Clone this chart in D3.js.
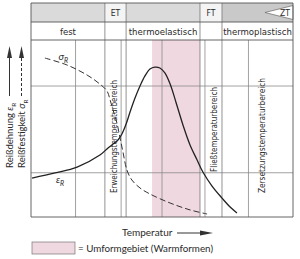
<!DOCTYPE html>
<html>
<head>
<meta charset="utf-8">
<script src="https://cdn.jsdelivr.net/npm/d3@7"></script>
<style>
  body { margin: 0; background: #fff; }
  text { fill: #2a2a2a; }
  .narrow { font-family: "Liberation Sans Narrow", "DejaVu Sans Condensed", sans-serif; }
  .round { font-family: Lato, "Open Sans", sans-serif; }
</style>
</head>
<body>
<div id="chart"></div>
<script>
const width = 300;
const height = 259;
const frame = {left: 31, right: 293, top: 3, band: 22, head: 40, bottom: 217};

// values, relative units 0..100 on both axes
const sigmaTemp = [5.3, 13.7, 21.4, 26.3, 29.0, 30.2, 31.3, 32.8, 34.0, 35.1, 36.6, 38.5, 41.6, 45.4, 53.1, 60.7, 67.2];
const sigmaVal  = [89.8, 85.9, 80.2, 75.1, 71.2, 66.1, 60.5, 53.1, 44.6, 36.7, 26.6, 20.9, 16.4, 13.0, 7.9, 4.0, 1.7];

const epsTemp = [0.4, 9.2, 17.6, 26.3, 29.4, 31.3, 33.2, 34.7, 36.3, 37.8, 39.7, 41.6, 43.5, 45.4, 47.3, 49.2, 51.1, 53.1, 55.3, 58.0, 60.7, 63.4, 65.6, 69.1, 72.9, 76.0, 78.6];
const epsVal  = [22.0, 24.9, 28.2, 35.0, 39.0, 41.2, 43.5, 46.9, 52.5, 59.3, 67.2, 74.0, 79.7, 83.6, 84.7, 84.2, 81.4, 75.1, 65.0, 52.0, 40.7, 32.2, 25.4, 17.5, 10.7, 5.6, 2.3];

const gridTemp = [17, 50, 83];
const gridVal = [25, 74];

// temperature ranges: [outer start, inner line, outer end]
const etBand = [28.2, 34.4, 36.3];
const ftBand = [64.5, 66.4, 72.9];
const formRange = [46.2, 64.5];
const ztTip = 89.3;

const stateNames = ["fest", "thermoelastisch", "thermoplastisch"];
const stateFrom = [0, 36.3, 72.9];
const stateTo = [28.2, 64.5, 100];

const svg = d3.select('#chart')
  .append('svg')
  .attr('width', width)
  .attr('height', height);

const x = d3.scaleLinear().domain([0, 100]).range([frame.left, frame.right]);
const y = d3.scaleLinear().domain([0, 100]).range([frame.bottom, frame.head]);

// header band
svg.append('rect')
  .attr('x', frame.left).attr('y', frame.top)
  .attr('width', frame.right - frame.left).attr('height', frame.band - frame.top)
  .attr('fill', '#dadada');
svg.append('rect')
  .attr('x', x(ftBand[2])).attr('y', frame.top)
  .attr('width', frame.right - x(ftBand[2])).attr('height', frame.band - frame.top)
  .attr('fill', '#c9c9c9');
[etBand, ftBand].forEach(b => {
  svg.append('rect')
    .attr('x', x(b[0])).attr('y', frame.top)
    .attr('width', x(b[2]) - x(b[0])).attr('height', frame.band - frame.top)
    .attr('fill', '#f4f4f4');
});
const mid = (frame.top + frame.band) / 2;
svg.append('polygon')
  .attr('points', [[x(ztTip), mid], [frame.right, mid - 7], [frame.right, mid + 7]].join(' '))
  .attr('fill', '#fff').attr('stroke', '#666').attr('stroke-width', 0.7);

// pink forming area
svg.append('rect')
  .attr('x', x(formRange[0])).attr('y', frame.head)
  .attr('width', x(formRange[1]) - x(formRange[0])).attr('height', frame.bottom - frame.head)
  .attr('fill', '#f0d8e1');

// grid
svg.selectAll('.vgrid')
  .data(gridTemp.concat([etBand[1], ftBand[1]]))
  .enter().append('line')
  .attr('x1', d => x(d)).attr('x2', d => x(d))
  .attr('y1', frame.head).attr('y2', frame.bottom)
  .attr('stroke', '#8a8a8a').attr('stroke-width', 0.8);
svg.selectAll('.hgrid')
  .data(gridVal)
  .enter().append('line')
  .attr('x1', frame.left).attr('x2', frame.right)
  .attr('y1', d => y(d)).attr('y2', d => y(d))
  .attr('stroke', '#8a8a8a').attr('stroke-width', 0.8);

// band borders running through header
svg.selectAll('.band')
  .data([etBand[0], etBand[2], ftBand[0], ftBand[2]])
  .enter().append('line')
  .attr('x1', d => x(d)).attr('x2', d => x(d))
  .attr('y1', frame.top).attr('y2', frame.bottom)
  .attr('stroke', '#777').attr('stroke-width', 0.8);

// frame
[frame.top, frame.band, frame.head, frame.bottom].forEach(v => {
  svg.append('line')
    .attr('x1', frame.left).attr('x2', frame.right)
    .attr('y1', v).attr('y2', v)
    .attr('stroke', '#555').attr('stroke-width', 0.9);
});
[frame.left, frame.right].forEach(v => {
  svg.append('line')
    .attr('x1', v).attr('x2', v)
    .attr('y1', frame.top).attr('y2', frame.bottom)
    .attr('stroke', '#555').attr('stroke-width', 0.9);
});

// header texts
svg.append('text').attr('class', 'narrow')
  .attr('x', x((etBand[0] + etBand[2]) / 2)).attr('y', mid + 3.5)
  .attr('text-anchor', 'middle').attr('font-size', 8.5).text('ET');
svg.append('text').attr('class', 'narrow')
  .attr('x', x((ftBand[0] + ftBand[2]) / 2)).attr('y', mid + 3.5)
  .attr('text-anchor', 'middle').attr('font-size', 8.5).text('FT');
svg.append('text').attr('class', 'narrow')
  .attr('x', frame.right - 3).attr('y', mid + 3.5)
  .attr('text-anchor', 'end').attr('font-size', 8.5).text('ZT');

svg.selectAll('.state')
  .data(stateNames)
  .enter().append('text')
  .attr('class', 'narrow')
  .attr('x', (d, i) => x((stateFrom[i] + stateTo[i]) / 2))
  .attr('y', (frame.band + frame.head) / 2 + 3.5)
  .attr('text-anchor', 'middle')
  .attr('font-size', 9.5)
  .text(d => d);

// rotated range labels
const vlabel = (txt, px, bottom, len) => {
  svg.append('text').attr('class', 'narrow')
    .attr('transform', 'translate(' + px + ',' + bottom + ') rotate(-90)')
    .attr('font-size', 9)
    .attr('textLength', len).attr('lengthAdjust', 'spacingAndGlyphs')
    .text(txt);
};
vlabel('Erweichungstemperaturbereich', (x(etBand[0]) + x(etBand[1])) / 2 + 3.5, 193, 113);
vlabel('Fließtemperaturbereich', (x(ftBand[1]) + x(ftBand[2])) / 2 + 3.5, 172, 85);
vlabel('Zersetzungstemperaturbereich', x(87.8) + 3.5, 193, 115);

// curves
const line = d3.line()
  .x(d => x(d[0]))
  .y(d => y(d[1]))
  .curve(d3.curveCatmullRom);

svg.append('path')
  .datum(sigmaTemp.map((t, i) => [t, sigmaVal[i]]))
  .attr('d', line)
  .attr('fill', 'none').attr('stroke', '#333')
  .attr('stroke-width', 1).attr('stroke-dasharray', '6,3');

svg.append('path')
  .datum(epsTemp.map((t, i) => [t, epsVal[i]]))
  .attr('d', line)
  .attr('fill', 'none').attr('stroke', '#222')
  .attr('stroke-width', 1.3);

const curveLabel = (sym, px, py) => {
  const t = svg.append('text').attr('class', 'round')
    .attr('x', px).attr('y', py).attr('font-size', 10).attr('font-style', 'italic');
  t.append('tspan').text(sym);
  t.append('tspan').attr('dy', 2.5).attr('font-size', 7).text('R');
};
curveLabel('σ', x(10.5), y(88.5));
curveLabel('ε', x(9.5), y(19));

// axis titles
const ylabel = (name, sym, px, dashed) => {
  const t = svg.append('text').attr('class', 'round')
    .attr('transform', 'translate(' + px + ',168) rotate(-90)')
    .attr('font-size', 9.5);
  t.append('tspan').text(name + ' ');
  t.append('tspan').attr('font-style', 'italic').text(sym);
  t.append('tspan').attr('dy', 2.5).attr('font-size', 6.5).text('R');
  const ax = px - 3.5;
  svg.append('line')
    .attr('x1', ax).attr('x2', ax).attr('y1', 96).attr('y2', 56)
    .attr('stroke', '#333').attr('stroke-width', 1)
    .attr('stroke-dasharray', dashed ? '3,2' : null);
  svg.append('path')
    .attr('d', 'M' + (ax - 2.5) + ',58L' + ax + ',46L' + (ax + 2.5) + ',58Z')
    .attr('fill', '#333');
};
ylabel('Reißdehnung', 'ε', 13, false);
ylabel('Reißfestigkeit', 'σ', 25, true);

svg.append('text').attr('class', 'round')
  .attr('x', 122).attr('y', 236).attr('font-size', 10)
  .text('Temperatur');
svg.append('line')
  .attr('x1', 177).attr('x2', 202).attr('y1', 233).attr('y2', 233)
  .attr('stroke', '#333').attr('stroke-width', 1);
svg.append('path')
  .attr('d', 'M200,230.5L213,233L200,235.5Z').attr('fill', '#333');

// legend
svg.append('rect')
  .attr('x', 32).attr('y', 242).attr('width', 43).attr('height', 12)
  .attr('fill', '#f0d8e1').attr('stroke', '#777').attr('stroke-width', 0.7);
svg.append('text').attr('class', 'round')
  .attr('x', 78).attr('y', 252).attr('font-size', 10)
  .attr('textLength', 135).attr('lengthAdjust', 'spacingAndGlyphs')
  .text('= Umformgebiet (Warmformen)');
</script>
</body>
</html>
